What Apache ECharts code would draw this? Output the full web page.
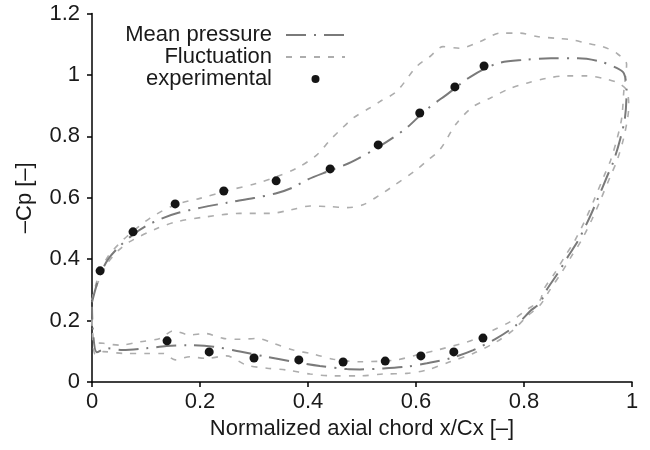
<!DOCTYPE html>
<html>
<head>
<meta charset="utf-8">
<title>Pressure coefficient distribution</title>
<script src="https://cdn.jsdelivr.net/npm/echarts@6/dist/echarts.min.js"></script>
<style>
  html, body { margin: 0; padding: 0; background: #fff; }
  #chart { width: 650px; height: 450px; }
</style>
</head>
<body>
<div id="chart"></div>
<script>
// Axis ticks
const xTicks = [0, 0.2, 0.4, 0.6, 0.8, 1];
const yTicks = [0, 0.2, 0.4, 0.6, 0.8, 1, 1.2];

// Mean -Cp around the blade: suction side LE -> TE, then pressure side TE -> LE
const meanPressure = [
  [0, 0.26], [0.006, 0.30], [0.015, 0.35], [0.03, 0.40], [0.05, 0.44], [0.076, 0.48],
  [0.1, 0.508], [0.13, 0.533], [0.16, 0.551], [0.2, 0.567], [0.25, 0.584], [0.3, 0.599],
  [0.34, 0.614], [0.37, 0.632], [0.4, 0.66], [0.44, 0.688], [0.48, 0.716], [0.53, 0.765],
  [0.58, 0.824], [0.62, 0.888], [0.66, 0.94], [0.7, 0.993], [0.75, 1.037], [0.8, 1.049],
  [0.85, 1.054], [0.9, 1.054], [0.94, 1.044], [0.97, 1.024], [0.985, 1.005],
  [0.99, 0.95], [0.987, 0.86], [0.978, 0.79], [0.966, 0.72], [0.954, 0.67], [0.935, 0.59],
  [0.92, 0.53], [0.9, 0.46], [0.882, 0.41], [0.863, 0.355], [0.842, 0.3], [0.829, 0.256],
  [0.814, 0.235], [0.786, 0.186], [0.749, 0.142], [0.706, 0.104], [0.663, 0.077],
  [0.62, 0.061], [0.583, 0.05], [0.539, 0.044], [0.496, 0.041], [0.472, 0.042],
  [0.422, 0.052], [0.372, 0.066], [0.324, 0.082], [0.274, 0.099], [0.225, 0.115],
  [0.175, 0.12], [0.138, 0.117], [0.101, 0.11], [0.057, 0.104], [0.027, 0.11],
  [0.009, 0.097], [0.002, 0.16], [0, 0.245]
];

// Fluctuation band, upper bound (suction outer + pressure upper)
const fluctHigh = [
  [0, 0.267], [0.006, 0.31], [0.015, 0.36], [0.03, 0.41], [0.05, 0.45], [0.064, 0.473],
  [0.107, 0.533], [0.154, 0.577], [0.2, 0.598], [0.255, 0.625], [0.305, 0.647],
  [0.342, 0.669], [0.379, 0.696], [0.416, 0.739], [0.441, 0.788], [0.46, 0.821],
  [0.484, 0.86], [0.515, 0.893], [0.533, 0.913], [0.564, 0.946], [0.601, 1.027],
  [0.626, 1.06], [0.65, 1.092], [0.681, 1.087], [0.719, 1.109], [0.756, 1.136],
  [0.793, 1.136], [0.824, 1.125], [0.861, 1.119], [0.891, 1.114], [0.916, 1.103],
  [0.946, 1.092], [0.972, 1.07], [0.99, 1.035], [0.985, 0.95],
  [0.981, 0.86], [0.972, 0.79], [0.96, 0.72], [0.948, 0.67], [0.929, 0.59], [0.914, 0.53],
  [0.894, 0.46], [0.876, 0.41], [0.857, 0.355], [0.836, 0.3], [0.83, 0.267],
  [0.805, 0.235], [0.774, 0.196], [0.743, 0.169], [0.706, 0.137], [0.644, 0.106],
  [0.601, 0.088], [0.564, 0.072], [0.496, 0.066], [0.447, 0.074], [0.41, 0.091],
  [0.373, 0.104], [0.336, 0.126], [0.305, 0.142], [0.274, 0.139], [0.243, 0.142],
  [0.209, 0.158], [0.181, 0.153], [0.151, 0.167], [0.126, 0.142], [0.089, 0.131],
  [0.052, 0.12], [0.021, 0.126], [0.004, 0.131], [0, 0.22]
];

// Fluctuation band, lower bound (suction inner + pressure lower)
const fluctLow = [
  [0, 0.267], [0.006, 0.30], [0.015, 0.34], [0.03, 0.39], [0.05, 0.43], [0.07, 0.457],
  [0.12, 0.5], [0.157, 0.522], [0.212, 0.538], [0.274, 0.549], [0.33, 0.549],
  [0.367, 0.56], [0.404, 0.573], [0.441, 0.571], [0.472, 0.568], [0.502, 0.577],
  [0.533, 0.609], [0.552, 0.631], [0.6, 0.69], [0.62, 0.72], [0.644, 0.756],
  [0.675, 0.842], [0.706, 0.897], [0.737, 0.924], [0.774, 0.956], [0.805, 0.973],
  [0.842, 0.989], [0.879, 0.997], [0.916, 0.997], [0.953, 0.986], [0.975, 0.973],
  [0.99, 0.95], [0.994, 0.9], [0.992, 0.86], [0.984, 0.79], [0.972, 0.72], [0.96, 0.67],
  [0.941, 0.59], [0.926, 0.53], [0.906, 0.46], [0.888, 0.41], [0.869, 0.355],
  [0.848, 0.3], [0.83, 0.251], [0.805, 0.213], [0.78, 0.169], [0.749, 0.131],
  [0.706, 0.093], [0.663, 0.066], [0.62, 0.039], [0.583, 0.028], [0.539, 0.026],
  [0.496, 0.02], [0.447, 0.02], [0.404, 0.026], [0.361, 0.039], [0.324, 0.045],
  [0.286, 0.055], [0.249, 0.085], [0.212, 0.077], [0.181, 0.082], [0.154, 0.072],
  [0.132, 0.093], [0.101, 0.093], [0.058, 0.093], [0.021, 0.099], [0.006, 0.09],
  [0, 0.2]
];

// Measured pressure taps
const expSuction = [
  [0.015, 0.362], [0.076, 0.489], [0.154, 0.58], [0.244, 0.622], [0.341, 0.655],
  [0.441, 0.694], [0.53, 0.772], [0.607, 0.876], [0.672, 0.961], [0.726, 1.029]
];
const expPressureSide = [
  [0.139, 0.134], [0.217, 0.098], [0.3, 0.078], [0.383, 0.072], [0.465, 0.065],
  [0.543, 0.068], [0.609, 0.085], [0.67, 0.098], [0.724, 0.143]
];

const FONT = '"Liberation Sans", Arial, Helvetica, sans-serif';
const MEAN_COLOR = '#7a7a7a';
const FLUCT_COLOR = '#adadad';
const DOT_COLOR = '#151515';

const chart = echarts.init(document.getElementById('chart'), null, { renderer: 'canvas' });

const axisCommon = {
  type: 'value',
  axisLine: { show: true, lineStyle: { color: '#000', width: 1.5 } },
  axisTick: { show: true, inside: false, length: 5, lineStyle: { color: '#000', width: 1.5 } },
  splitLine: { show: false },
  nameLocation: 'middle',
  nameTextStyle: { fontFamily: FONT, fontSize: 22, color: '#1a1a1a' }
};

chart.setOption({
  animation: false,
  backgroundColor: '#fff',
  textStyle: { fontFamily: FONT },
  grid: { left: 92, right: 18, top: 13.5, bottom: 68, containLabel: false },
  legend: {
    orient: 'vertical',
    align: 'right',
    right: 299,
    top: 19,
    itemWidth: 59,
    itemHeight: 8,
    itemGap: 0,
    data: [
      { name: 'Mean pressure', itemStyle: { opacity: 0 } },
      { name: 'Fluctuation', itemStyle: { opacity: 0 } },
      { name: 'experimental' }
    ],
    textStyle: { fontFamily: FONT, fontSize: 22, color: '#1a1a1a', lineHeight: 22, padding: [0, 9, 0, 0] }
  },
  xAxis: Object.assign({}, axisCommon, {
    min: xTicks[0], max: xTicks[xTicks.length - 1], interval: 0.2,
    name: 'Normalized axial chord x/Cx [–]', nameGap: 36,
    axisLabel: { fontFamily: FONT, fontSize: 22, color: '#1a1a1a', margin: 9 }
  }),
  yAxis: Object.assign({}, axisCommon, {
    min: yTicks[0], max: yTicks[yTicks.length - 1], interval: 0.2,
    name: '–Cp [–]', nameGap: 56, nameRotate: 90,
    axisLabel: { fontFamily: FONT, fontSize: 22, color: '#1a1a1a', margin: 12 }
  }),
  series: [
    {
      name: 'Fluctuation', type: 'line', data: fluctHigh, showSymbol: false, symbol: 'none',
      smooth: 0.3, itemStyle: { color: FLUCT_COLOR },
      lineStyle: { color: FLUCT_COLOR, width: 1.6, type: [6, 8] }, z: 1
    },
    {
      name: 'Fluctuation', type: 'line', data: fluctLow, showSymbol: false, symbol: 'none',
      smooth: 0.3, itemStyle: { color: FLUCT_COLOR },
      lineStyle: { color: FLUCT_COLOR, width: 1.6, type: [6, 8] }, z: 1
    },
    {
      name: 'Mean pressure', type: 'line', data: meanPressure, showSymbol: false, symbol: 'none',
      smooth: 0.3, itemStyle: { color: MEAN_COLOR },
      lineStyle: { color: MEAN_COLOR, width: 2, type: [20, 8, 2, 8] }, z: 2
    },
    {
      name: 'experimental', type: 'scatter', data: expSuction.concat(expPressureSide),
      symbol: 'circle', symbolSize: 9, itemStyle: { color: DOT_COLOR, opacity: 1 }, z: 3
    }
  ]
});
</script>
</body>
</html>
